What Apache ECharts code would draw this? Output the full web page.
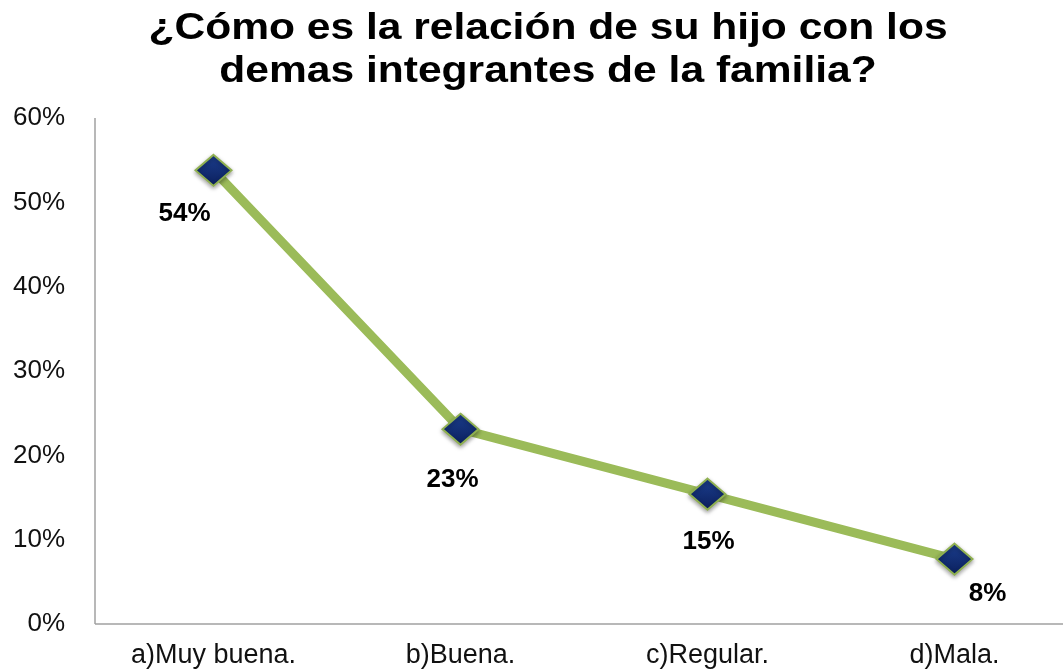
<!DOCTYPE html>
<html>
<head>
<meta charset="utf-8">
<script src="https://cdn.jsdelivr.net/npm/echarts@6/dist/echarts.min.js"></script>
<style>
  html, body { margin: 0; padding: 0; background: #fff; }
  #main { width: 1063px; height: 671px; }
</style>
</head>
<body>
<div id="main"></div>
<script>
var categories = ['a)Muy buena.', 'b)Buena.', 'c)Regular.', 'd)Mala.'];
var values = [53.8, 23.1, 15.4, 7.7];
var yTicks = [0, 10, 20, 30, 40, 50, 60];
var titleLines = ['¿Cómo es la relación de su hijo con los', 'demas integrantes de la familia?'];

// label offsets per point (Excel put them under/left/right of the marker)
var labelOffsets = [[-29, 9], [-8, 16], [1, 13], [33, 0]];

var chart = echarts.init(document.getElementById('main'));

var seriesData = values.map(function (v, i) {
  return {
    value: v,
    label: { offset: labelOffsets[i] }
  };
});

function titleText(txt, y) {
  return {
    type: 'text',
    x: 548,
    y: y,
    scaleX: 1.15,
    style: {
      text: txt,
      align: 'center',
      verticalAlign: 'middle',
      fontFamily: 'Liberation Sans, Arial',
      fontWeight: 'bold',
      fontSize: 37,
      fill: '#000'
    }
  };
}

var option = {
  animation: false,
  grid: {
    left: 90,
    width: 988,
    top: 118,
    bottom: 47,
    outerBoundsMode: 'none'
  },
  xAxis: {
    type: 'category',
    data: categories,
    boundaryGap: true,
    axisLine: { show: false },
    axisTick: { show: false },
    axisLabel: {
      margin: 18,
      fontFamily: 'Liberation Sans, Arial',
      fontSize: 27,
      color: '#111'
    }
  },
  yAxis: {
    type: 'value',
    min: 0,
    max: 60,
    interval: 10,
    splitLine: { show: false },
    axisLine: { show: false },
    axisTick: { show: false },
    axisLabel: {
      margin: 25,
      fontFamily: 'Liberation Sans, Arial',
      fontSize: 26,
      color: '#111',
      formatter: function (v) { return yTicks.indexOf(v) >= 0 ? v + '%' : ''; }
    }
  },
  graphic: [{
    type: 'line',
    shape: { x1: 95, y1: 118, x2: 95, y2: 624 },
    style: { stroke: '#a0a0a0', lineWidth: 1.5 }
  }, {
    type: 'line',
    shape: { x1: 95, y1: 624, x2: 1063, y2: 624 },
    style: { stroke: '#a0a0a0', lineWidth: 1.5 }
  },
    titleText(titleLines[0], 29),
    titleText(titleLines[1], 72)
  ],
  series: [{
    type: 'line',
    data: seriesData,
    symbol: 'diamond',
    symbolSize: [36, 31],
    lineStyle: { color: '#9bbb59', width: 9 },
    itemStyle: {
      color: new echarts.graphic.LinearGradient(0, 0, 0, 1, [
        { offset: 0, color: '#1c3f8f' },
        { offset: 1, color: '#0b1f5c' }
      ]),
      borderColor: '#8fb050',
      borderWidth: 2,
      shadowColor: 'rgba(0,0,0,0.35)',
      shadowBlur: 4,
      shadowOffsetY: 2
    },
    label: {
      show: true,
      position: 'bottom',
      fontFamily: 'Liberation Sans, Arial',
      fontWeight: 'bold',
      fontSize: 26,
      color: '#000',
      formatter: function (p) { return Math.round(p.value) + '%'; }
    }
  }]
};

chart.setOption(option);
</script>
</body>
</html>
